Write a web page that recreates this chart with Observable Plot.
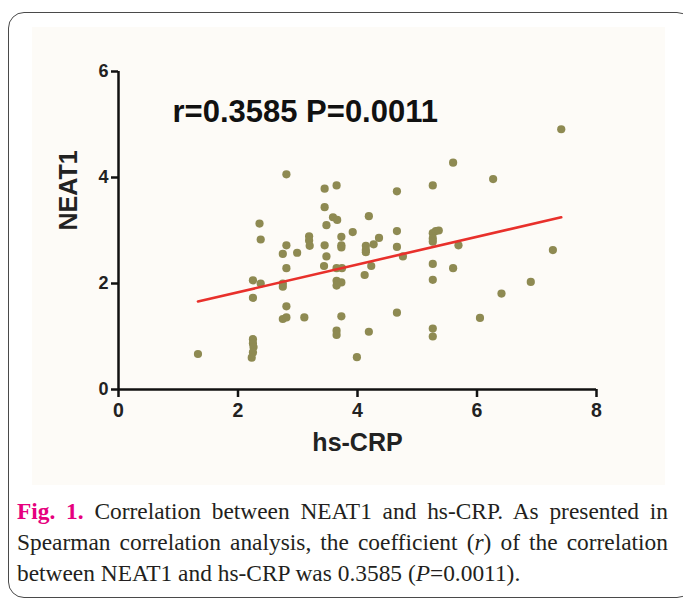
<!DOCTYPE html>
<html>
<head>
<meta charset="utf-8">
<script src="https://cdn.jsdelivr.net/npm/d3@7"></script>
<script src="https://cdn.jsdelivr.net/npm/@observablehq/plot@0.6"></script>
<style>
  html, body { margin: 0; padding: 0; background: #ffffff; }
  body { width: 683px; height: 603px; position: relative; overflow: hidden; }
  #frame { position: absolute; left: 8px; top: 12px; width: 685px; height: 586px;
           border: 1.5px solid #4a4a4a; border-radius: 16px; box-sizing: border-box; }
  #panel { position: absolute; left: 32px; top: 27px; width: 633px; height: 458px; background: #fdfbf7; }
  #chart { position: absolute; left: 0; top: 0; }
  .cap { position: absolute; left: 17px; width: 651px; font-family: "Liberation Serif", "Times New Roman", serif;
         font-size: 23.4px; color: #231f20; white-space: nowrap; }
  .just { text-align: justify; text-align-last: justify; white-space: normal; }
  .fig { color: #e6007e; font-weight: bold; }
</style>
</head>
<body>
<div id="frame"></div>
<div id="panel"></div>
<div id="chart"></div>
<div class="cap just" style="top:498px;"><span class="fig">Fig. 1.</span> Correlation between NEAT1 and hs-CRP. As presented in</div>
<div class="cap just" style="top:529px;">Spearman correlation analysis, the coefficient (<i>r</i>) of the correlation</div>
<div class="cap" style="top:560px;">between NEAT1 and hs-CRP was 0.3585 (<i>P</i>=0.0011).</div>
<script>
// hs-CRP (x) and NEAT1 (y) values
const hsCRP = [1.33, 2.25, 2.25, 2.26, 2.25, 2.23, 2.25, 2.38, 2.25, 2.36,
  2.38, 2.81, 2.81, 2.75, 2.81, 2.75, 2.75, 2.81, 2.75, 2.81,
  2.99, 3.11, 3.19, 3.19, 3.20, 3.45, 3.65, 3.45, 3.59, 3.66,
  3.48, 3.45, 3.48, 3.44, 3.73, 3.73, 3.73, 3.65, 3.74, 3.65,
  3.66, 3.73, 3.65, 3.73, 3.65, 3.65, 3.92, 3.99, 4.12, 4.14,
  4.14, 4.14, 4.19, 4.19, 4.23, 4.27, 4.36, 4.66, 4.66, 4.66,
  4.66, 4.76, 5.26, 5.26, 5.31, 5.36, 5.26, 5.26, 5.26, 5.26,
  5.26, 5.26, 5.60, 5.60, 5.69, 6.05, 6.27, 6.41, 6.90, 7.27, 7.41];
const neat1 = [0.67, 0.95, 0.87, 0.80, 0.70, 0.60, 2.06, 2.00, 1.73, 3.13,
  2.83, 4.06, 2.72, 2.56, 2.29, 2.00, 1.94, 1.57, 1.33, 1.36,
  2.58, 1.36, 2.89, 2.81, 2.71, 3.79, 3.85, 3.44, 3.25, 3.20,
  3.10, 2.72, 2.51, 2.33, 2.88, 2.72, 2.68, 2.29, 2.29, 2.05,
  2.00, 2.02, 1.96, 1.38, 1.11, 1.03, 2.97, 0.61, 2.16, 2.71,
  2.63, 2.59, 3.27, 1.09, 2.33, 2.74, 2.86, 3.74, 2.99, 2.69,
  1.45, 2.51, 3.85, 2.95, 2.99, 3.00, 2.85, 2.79, 2.37, 2.07,
  1.15, 1.00, 4.28, 2.29, 2.72, 1.35, 3.97, 1.81, 2.03, 2.63, 4.91];
// fitted regression line end points
const fitX = [1.33, 7.41];
const fitY = [1.66, 3.25];
const xTicks = [0, 2, 4, 6, 8];
const yTicks = [0, 2, 4, 6];
const xLabel = "hs-CRP";
const yLabel = "NEAT1";
const statText = "r=0.3585 P=0.0011";

const points = hsCRP.map((x, i) => ({x, y: neat1[i]}));
const fit = fitX.map((x, i) => ({x, y: fitY[i]}));

const chart = Plot.plot({
  width: 683,
  height: 490,
  marginLeft: 118,
  marginRight: 87,
  marginTop: 71,
  marginBottom: 101,
  x: {domain: [0, 8]},
  y: {domain: [0, 6]},
  style: {background: "transparent", fontFamily: "'Liberation Sans', Arial, sans-serif", color: "#111", overflow: "visible"},
  marks: [
    Plot.axisX({ticks: xTicks, tickFormat: d => String(d), tickSize: 8, tickPadding: 6, fontSize: 19.5, fontWeight: "bold", strokeWidth: 2.5, label: null, stroke: "#111", fill: "#222"}),
    Plot.axisY({ticks: yTicks, tickFormat: d => String(d), tickSize: 7, tickPadding: 3, fontSize: 18, fontWeight: "bold", strokeWidth: 2.5, label: null, stroke: "#111", fill: "#222"}),
    Plot.ruleX([0], {stroke: "#111", strokeWidth: 2.5}),
    Plot.ruleY([0], {stroke: "#111", strokeWidth: 2.5}),
    Plot.dot(points, {x: "x", y: "y", r: 4.1, fill: "#8e8a52", stroke: "none"}),
    Plot.line(fit, {x: "x", y: "y", stroke: "#e8302b", strokeWidth: 2.6}),
    Plot.text([xLabel], {frameAnchor: "bottom", dy: 61, fontSize: 25, fontWeight: "bold", fill: "#222"}),
    Plot.text([yLabel], {frameAnchor: "left", rotate: -90, dx: -50, fontSize: 25, fontWeight: "bold", fill: "#222"}),
    Plot.text([statText], {frameAnchor: "top-left", dx: 54, dy: 28, textAnchor: "start", fontSize: 31, fontWeight: "bold", fill: "#111"})
  ]
});
document.getElementById("chart").appendChild(chart);
</script>
</body>
</html>
